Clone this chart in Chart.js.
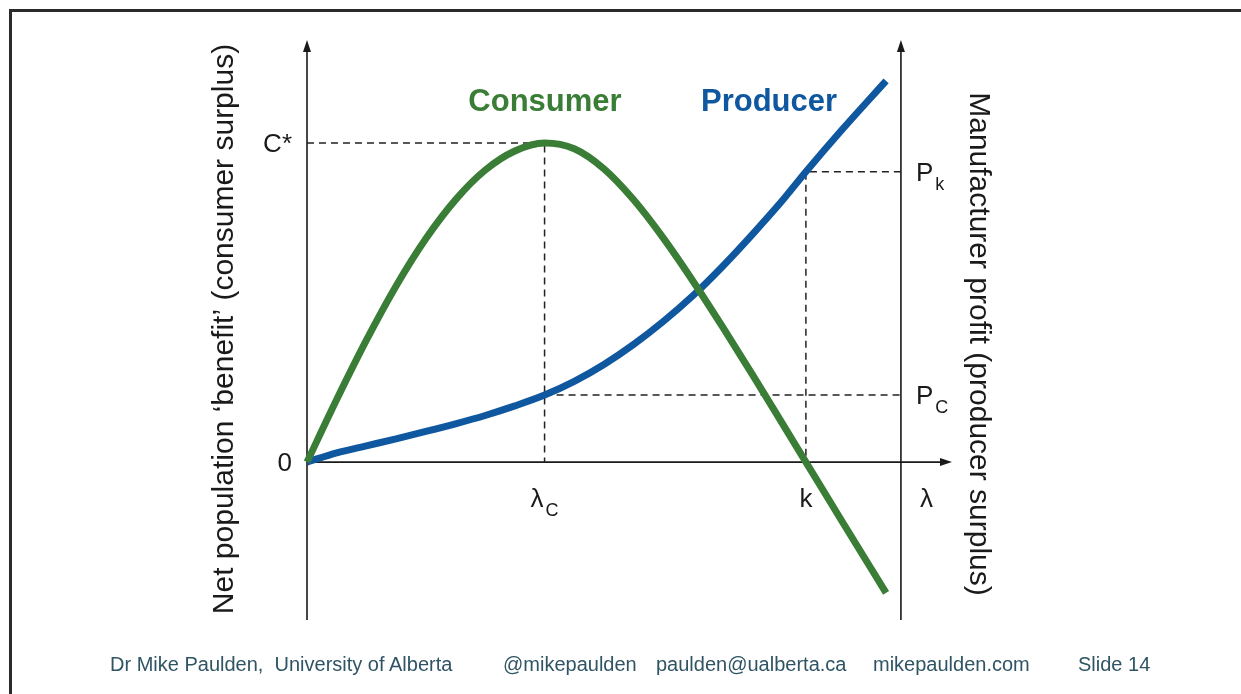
<!DOCTYPE html>
<html>
<head>
<meta charset="utf-8">
<script src="https://cdn.jsdelivr.net/npm/chart.js@4.4.1/dist/chart.umd.min.js"></script>
<style>
  html, body { margin: 0; padding: 0; background: #fff; }
  #slide { position: relative; width: 1241px; height: 694px; overflow: hidden; background: #fff; }
  #frame { position: absolute; left: 9px; top: 9px; width: 1250px; height: 700px;
           border-left: 3px solid #2b2b2b; border-top: 3px solid #2b2b2b; }
  #wrap { position: absolute; left: 0; top: 0; width: 1241px; height: 694px; }
  .foot { position: absolute; top: 652px; font: 20px 'Liberation Sans', Arial, sans-serif;
          line-height: 24px; color: #2f5464; white-space: pre; }
</style>
</head>
<body>
<div id="slide">
  <div id="frame"></div>
  <div id="wrap"><canvas id="chart"></canvas></div>
  <span class="foot" style="left:110px">Dr Mike Paulden,  University of Alberta</span>
  <span class="foot" style="left:503px">@mikepaulden</span>
  <span class="foot" style="left:656px">paulden@ualberta.ca</span>
  <span class="foot" style="left:873px">mikepaulden.com</span>
  <span class="foot" style="left:1078px">Slide 14</span>
</div>
<script>
// lambda (x) and the two surplus curves
const lambda   = [0, 5, 10, 15, 20, 25, 30, 35, 40, 45, 50, 55, 60, 65, 70, 75, 80, 84, 90, 97.5];
const consumer = [0, 19.6, 38.2, 55.2, 70.0, 82.2, 91.5, 97.5, 100, 98.2, 91.9, 82.2, 70.2, 56.7, 42.3, 27.4, 12.2, 0, -18.3, -41];
const producer = [0, 2.9, 5.1, 7.3, 9.6, 12.0, 14.6, 17.6, 21.0, 25.3, 30.6, 36.9, 44.1, 52.2, 61.4, 71.4, 81.9, 91.0, 104.0, 119.5];

// marked points
const lambdaC = 40, kPoint = 84, rightAxisAt = 100;
const cStar = 100, pC = 21, pK = 91;

// tick labels [main, subscript]
const leftTicks   = [0, cStar];
const leftLabels  = [['0', ''], ['C*', '']];
const xTicks      = [lambdaC, kPoint];
const xLabels     = [['λ', 'C'], ['k', '']];
const rightTicks  = [pC, pK];
const rightLabels = [['P', 'C'], ['P', 'k']];

const GREEN = '#3a7d36';
const BLUE  = '#0f58a0';
const INK   = '#1a1a1a';

const pts = ys => lambda.map((x, i) => ({ x, y: ys[i] }));

const dashed = (data) => ({
  data, borderColor: '#222', borderWidth: 1.5, borderDash: [7, 5],
  pointRadius: 0, tension: 0, order: 5, clip: false
});

function label(ctx, main, sub, x, y, align) {
  ctx.font = '26px "Liberation Sans", Arial, sans-serif';
  const w1 = ctx.measureText(main).width;
  ctx.font = '18px "Liberation Sans", Arial, sans-serif';
  const w2 = sub ? ctx.measureText(sub).width + 2 : 0;
  let x0 = x;
  if (align === 'center') x0 = x - (w1 + w2) / 2;
  if (align === 'right') x0 = x - (w1 + w2);
  ctx.textAlign = 'left';
  ctx.textBaseline = 'alphabetic';
  ctx.font = '26px "Liberation Sans", Arial, sans-serif';
  ctx.fillText(main, x0, y);
  if (sub) {
    ctx.font = '18px "Liberation Sans", Arial, sans-serif';
    ctx.fillText(sub, x0 + w1 + 2, y + 9);
  }
}

function arrow(ctx, x, y, dir) {
  ctx.beginPath();
  if (dir === 'up') { ctx.moveTo(x, y); ctx.lineTo(x - 4, y + 12); ctx.lineTo(x + 4, y + 12); }
  else { ctx.moveTo(x, y); ctx.lineTo(x - 12, y - 4); ctx.lineTo(x - 12, y + 4); }
  ctx.closePath();
  ctx.fill();
}

const slidePlugin = {
  id: 'slide',
  beforeDatasetsDraw(chart) {
    const { ctx, chartArea: a, scales: { x, y } } = chart;
    const xl = x.getPixelForValue(0), xr = x.getPixelForValue(rightAxisAt), y0 = y.getPixelForValue(0);
    ctx.save();
    ctx.strokeStyle = INK; ctx.fillStyle = INK; ctx.lineWidth = 1.6;
    ctx.beginPath();
    ctx.moveTo(xl, a.bottom); ctx.lineTo(xl, a.top + 6);
    ctx.moveTo(xr, a.bottom); ctx.lineTo(xr, a.top + 6);
    ctx.moveTo(xl, y0); ctx.lineTo(a.right - 6, y0);
    ctx.stroke();
    arrow(ctx, xl, a.top, 'up');
    arrow(ctx, xr, a.top, 'up');
    arrow(ctx, a.right, y0, 'right');
    ctx.restore();
  },
  afterDatasetsDraw(chart) {
    const { ctx, chartArea: a, scales: { x, y } } = chart;
    const xl = x.getPixelForValue(0), xr = x.getPixelForValue(rightAxisAt), y0 = y.getPixelForValue(0);
    ctx.save();
    ctx.fillStyle = INK;
    leftTicks.forEach((v, i) => label(ctx, leftLabels[i][0], leftLabels[i][1], xl - 15, y.getPixelForValue(v) + 9, 'right'));
    xTicks.forEach((v, i) => label(ctx, xLabels[i][0], xLabels[i][1], x.getPixelForValue(v), y0 + 45, 'center'));
    label(ctx, 'λ', '', (xr + a.right) / 2 + 0, y0 + 45, 'center');
    rightTicks.forEach((v, i) => label(ctx, rightLabels[i][0], rightLabels[i][1], xr + 15, y.getPixelForValue(v) + 9, 'left'));

    // series names
    ctx.font = 'bold 31px "Liberation Sans", Arial, sans-serif';
    ctx.textAlign = 'center'; ctx.textBaseline = 'alphabetic';
    ctx.fillStyle = GREEN; ctx.fillText('Consumer', 545, 111);
    ctx.fillStyle = BLUE;  ctx.fillText('Producer', 769, 111);

    // axis titles
    ctx.fillStyle = INK;
    ctx.font = '30px "Liberation Sans", Arial, sans-serif';
    ctx.save();
    ctx.translate(233, 329); ctx.rotate(-Math.PI / 2);
    ctx.fillText('Net population \u2018benefit\u2019 (consumer surplus)', 0, 0);
    ctx.restore();
    ctx.save();
    ctx.translate(970, 344); ctx.rotate(Math.PI / 2);
    ctx.fillText('Manufacturer profit (producer surplus)', 0, 0);
    ctx.restore();
    ctx.restore();
  }
};

new Chart(document.getElementById('chart'), {
  type: 'line',
  data: {
    datasets: [
      { label: 'Consumer', data: pts(consumer), borderColor: GREEN, borderWidth: 7,
        pointRadius: 0, cubicInterpolationMode: 'monotone', order: 1, clip: false },
      { label: 'Producer', data: pts(producer), borderColor: BLUE, borderWidth: 7,
        pointRadius: 0, cubicInterpolationMode: 'monotone', order: 2, clip: false },
      dashed([{ x: 0, y: cStar }, { x: lambdaC, y: cStar }, { x: lambdaC, y: 0 }]),
      dashed([{ x: lambdaC, y: pC }, { x: rightAxisAt, y: pC }]),
      dashed([{ x: rightAxisAt, y: pK }, { x: kPoint, y: pK }, { x: kPoint, y: 0 }])
    ]
  },
  options: {
    responsive: true,
    maintainAspectRatio: false,
    animation: false,
    layout: { padding: { left: 307, right: 289, top: 40, bottom: 74 } },
    plugins: { legend: { display: false }, tooltip: { enabled: false } },
    scales: {
      x: { type: 'linear', min: 0, max: 108.6, display: false },
      y: { type: 'linear', min: -49.5, max: 132.3, display: false }
    }
  },
  plugins: [slidePlugin]
});
</script>
</body>
</html>
